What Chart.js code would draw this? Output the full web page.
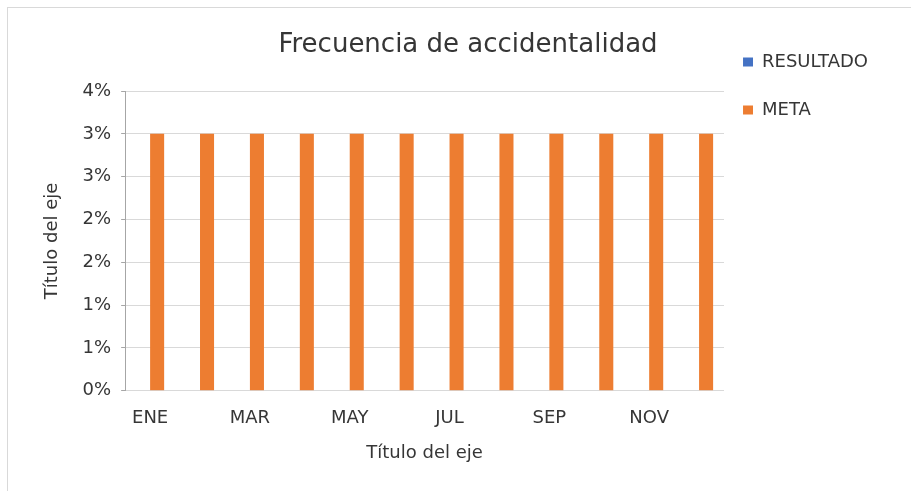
<!DOCTYPE html>
<html>
<head>
<meta charset="utf-8">
<script src="https://cdn.jsdelivr.net/npm/chart.js@4.4.1/dist/chart.umd.min.js"></script>
<style>
  html, body { margin: 0; padding: 0; background: #fff; overflow: hidden; }
  #frame {
    position: absolute; left: 7px; top: 7px;
    width: 920px; height: 500px;
    border: 1px solid #d9d9d9;
  }
  #wrap { position: absolute; left: 0; top: 0; width: 903px; height: 483px; }
</style>
</head>
<body>
<div id="frame"><div id="wrap"><canvas id="chart"></canvas></div></div>
<script>
// datos
const meses = ['ENE', 'FEB', 'MAR', 'ABR', 'MAY', 'JUN', 'JUL', 'AGO', 'SEP', 'OCT', 'NOV', 'DIC'];
const resultado = [null, null, null, null, null, null, null, null, null, null, null, null];
const meta = [0.03, 0.03, 0.03, 0.03, 0.03, 0.03, 0.03, 0.03, 0.03, 0.03, 0.03, 0.03];
const yTickLabels = ['0%', '1%', '1%', '2%', '2%', '3%', '3%', '4%'];

const fuente = 'DejaVu Sans';
const texto = '#363636';

// the legend sits a bit left of where chart.js puts it
const legendShift = {
    id: 'legendShift',
    afterLayout(chart) {
        chart.legend.left -= 11;
        chart.legend.right -= 11;
    }
};

const ctx = document.getElementById('chart').getContext('2d');
new Chart(ctx, {
    type: 'bar',
    data: {
        labels: meses,
        datasets: [
            { label: 'RESULTADO', data: resultado, backgroundColor: '#4472C4' },
            { label: 'META', data: meta, backgroundColor: '#ED7D31' }
        ]
    },
    options: {
        responsive: true,
        maintainAspectRatio: false,
        animation: false,
        datasets: { bar: { categoryPercentage: 0.5625, barPercentage: 1 } },
        layout: { padding: { left: 39, right: 22, top: 15, bottom: 0 } },
        plugins: {
            title: {
                display: true,
                text: 'Frecuencia de accidentalidad',
                color: texto,
                font: { family: fuente, size: 26, weight: 'normal' },
                padding: { top: 6.4, bottom: 30.4 }
            },
            legend: {
                position: 'right',
                align: 'start',
                labels: {
                    color: texto,
                    font: { family: fuente, size: 18 },
                    boxWidth: 10,
                    boxHeight: 9,
                    padding: 30
                }
            },
            tooltip: { enabled: false }
        },
        scales: {
            x: {
                grid: { display: false },
                border: { display: false },
                ticks: {
                    color: texto,
                    font: { family: fuente, size: 18 },
                    autoSkip: false,
                    maxRotation: 0,
                    padding: 9,
                    callback: (v, i) => (i % 2 === 0 ? meses[i] : '')
                },
                title: {
                    display: true,
                    text: 'Título del eje',
                    color: texto,
                    font: { family: fuente, size: 18 },
                    padding: { top: 4, bottom: 27 }
                }
            },
            y: {
                min: 0,
                max: 0.035,
                grid: { color: '#d9d9d9', tickLength: 4, tickColor: '#a6a6a6' },
                border: { color: '#a6a6a6' },
                ticks: {
                    stepSize: 0.005,
                    color: texto,
                    font: { family: fuente, size: 18 },
                    padding: 10,
                    callback: (v, i) => yTickLabels[i]
                },
                title: {
                    display: true,
                    text: 'Título del eje',
                    color: texto,
                    font: { family: fuente, size: 18 },
                    padding: { top: -5.8, bottom: 9.8 }
                }
            }
        }
    },
    plugins: [legendShift]
});
</script>
</body>
</html>
